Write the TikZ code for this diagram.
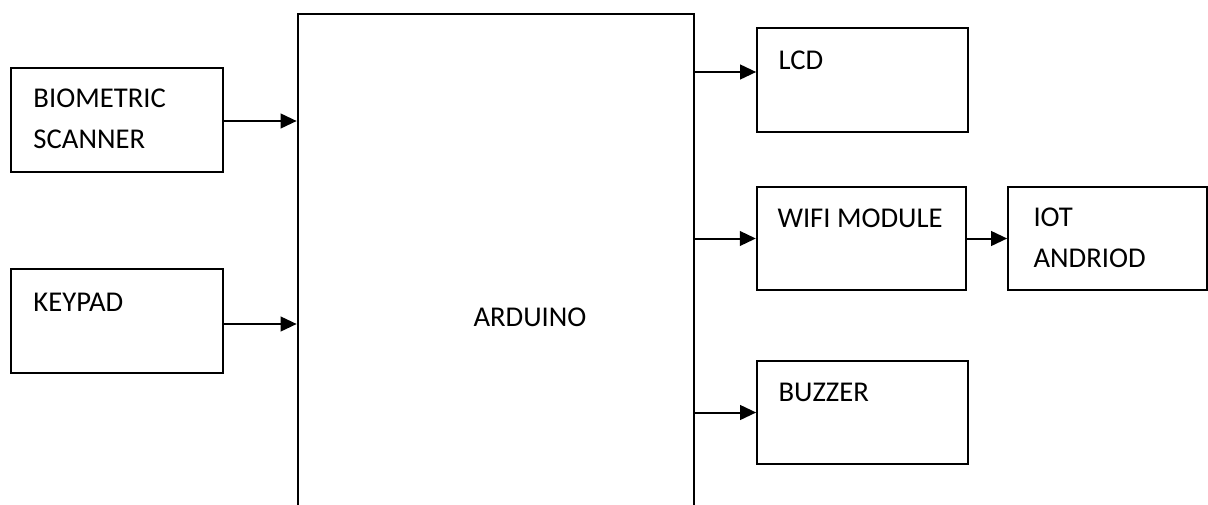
\documentclass[tikz,border=0pt]{standalone}
\usepackage{fontspec}
\setmainfont{Carlito}
\usetikzlibrary{arrows.meta}

\tikzset{
	blk/.style={draw, line width=1.5pt, inner sep=0pt},
	lbl/.style={anchor=north west, inner sep=0pt, align=left, font=\fontsize{21.5pt}{30.75pt}\selectfont},
	arr/.style={line width=1.5pt, -{Triangle[length=12pt,width=11pt]}}}
\tikzset{every picture/.style={line width=0.75pt}}

\begin{document}
\begin{tikzpicture}[x=0.75pt,y=0.75pt,yscale=-1,xscale=1]
	\useasboundingbox (0,0) rectangle (1208,504);
	\clip (0,0) rectangle (1208,504);

	% Blocks
	\node [blk, minimum width=159pt, minimum height=78pt] (bio) at (117,120) {};
	\node [blk, minimum width=159pt, minimum height=78pt] (key) at (117,321) {};
	\node [blk, line width=2pt, minimum width=297pt, minimum height=379.5pt] (ard) at (496,267) {};
	\node [blk, minimum width=158pt, minimum height=78pt] (lcd) at (862.5,80) {};
	\node [blk, minimum width=157pt, minimum height=77pt] (wifi) at (861.5,238.5) {};
	\node [blk, minimum width=149pt, minimum height=77pt] (iot) at (1107.5,238.5) {};
	\node [blk, minimum width=158pt, minimum height=77pt] (buz) at (862.5,412.5) {};

	% Text Node
	\node [lbl] (biotxt) at (33,88) {BIOMETRIC\\SCANNER};
	% Text Node
	\node [lbl] (keytxt) at (33,293) {KEYPAD};
	% Text Node
	\node [lbl] (ardtxt) at (473,307) {ARDUINO};
	% Text Node
	\node [lbl] (lcdtxt) at (778,50) {LCD};
	% Text Node
	\node [lbl] (wifitxt) at (777,208) {WIFI MODULE};
	% Text Node
	\node [lbl] (iottxt) at (1033,207) {IOT\\ANDRIOD};
	% Text Node
	\node [lbl] (buztxt) at (778,383) {BUZZER};

	% Connectors
	\draw [arr] ([yshift=0.75pt]bio.east) -- ([yshift=0.75pt]bio.east -| ard.west);
	\draw [arr] ([yshift=2.25pt]key.east) -- ([yshift=2.25pt]key.east -| ard.west);
	\draw [arr] ([yshift=-6pt]lcd.west -| ard.east) -- ([yshift=-6pt]lcd.west);
	\draw [arr] (wifi.west -| ard.east) -- (wifi.west);
	\draw [arr] (buz.west -| ard.east) -- (buz.west);
	\draw [arr] (wifi.east) -- (iot.west);

\end{tikzpicture}
\end{document}
